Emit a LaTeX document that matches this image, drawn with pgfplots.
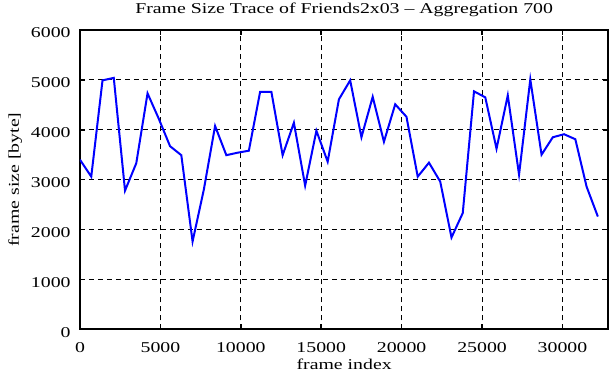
\documentclass[border=0pt]{standalone}
\usepackage{fontspec}
\setmainfont{Liberation Serif}[FakeStretch=1.32]
\usepackage{pgfplots}
\pgfplotsset{compat=1.18}
\begin{document}
\fontsize{7.5pt}{9pt}\selectfont
\begin{tikzpicture}
\begin{axis}[
  width=264.15pt, height=149.65pt, scale only axis,
  xmin=0, xmax=32850, ymin=0, ymax=6000,
  xtick={0,5000,...,30000}, ytick={0,1000,...,6000},
  scaled ticks=false,
  /pgf/number format/1000 sep={},
  /pgf/number format/assume math mode=true,
  grid=major,
  grid style={black, line width=0.5pt, dash pattern=on 2.5pt off 2pt},
  tick align=inside, major tick length=2.5pt,
  tick style={black, line width=0.8pt},
  axis line style={line width=1pt},
  every tick label/.append style={font=\fontsize{7.5pt}{9pt}\selectfont},
  xticklabel style={anchor=base, inner sep=0pt, yshift=-11.5pt},
  yticklabel style={anchor=east, inner sep=0pt, xshift=-4.5pt, yshift=-1.5pt},
  title={Frame Size Trace of Friends2x03 -- Aggregation 700},
  title style={at={(axis description cs:0.5,1)}, anchor=base, yshift=2.25pt, inner sep=0pt},
  xlabel={frame index},
  xlabel style={at={(axis description cs:0.5,0)}, anchor=base, yshift=-20.3pt, inner sep=0pt},
  ylabel={frame size [byte]},
  ylabel style={at={(axis description cs:-0.1155,0.5)}, anchor=base, inner sep=0pt},
  label style={font=\fontsize{7.5pt}{9pt}\selectfont},
]
\addplot[blue, line width=1pt] table[x=x, y=y] {
x y
0 3400
700 3060
1400 4990
2100 5040
2800 2780
3500 3330
4200 4730
4900 4220
5600 3670
6300 3490
7000 1760
7700 2800
8400 4075
9100 3490
9800 3540
10500 3580
11200 4760
11900 4760
12600 3490
13300 4140
14000 2880
14700 3980
15400 3360
16100 4610
16800 4990
17500 3850
18200 4660
18900 3760
19600 4510
20300 4260
21000 3060
21700 3340
22400 2960
23100 1840
23800 2330
24500 4770
25200 4650
25900 3620
26600 4690
27300 3100
28000 5010
28700 3500
29400 3850
30100 3910
30800 3810
31500 2860
32200 2260
};
\end{axis}
\pgfresetboundingbox
\path ([xshift=-40pt,yshift=-25.35pt]current axis.south west) rectangle ([xshift=1.35pt,yshift=15pt]current axis.north east);
\end{tikzpicture}
\end{document}
